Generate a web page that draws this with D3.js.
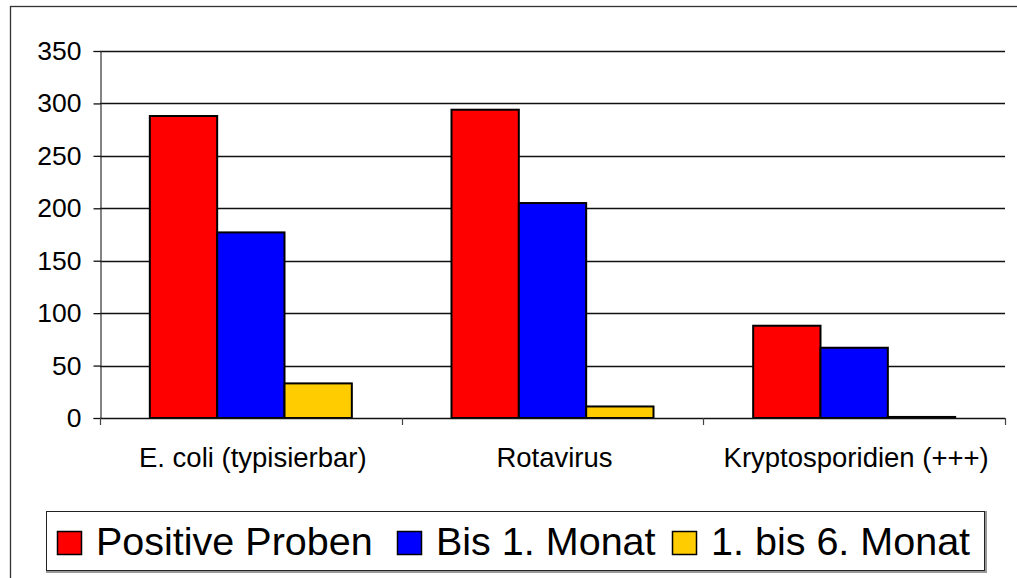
<!DOCTYPE html>
<html>
<head>
<meta charset="utf-8">
<script src="https://cdn.jsdelivr.net/npm/d3@7"></script>
<style>
  html, body { margin: 0; padding: 0; background: #fff; }
  svg { display: block; font-family: "Liberation Sans", Arial, sans-serif; }
</style>
</head>
<body>
<svg id="chart" width="1017" height="578"></svg>
<script>
const categories = ["E. coli (typisierbar)", "Rotavirus", "Kryptosporidien (+++)"];
const seriesNames = ["Positive Proben", "Bis 1. Monat", "1. bis 6. Monat"];
const seriesColors = ["#ff0000", "#0000ff", "#ffcc00"];
const positiveProben = [288, 294, 88];
const bis1Monat = [177, 205, 67];
const bis6Monat = [33, 11, 1];
const yTicks = [0, 50, 100, 150, 200, 250, 300, 350];

const seriesValues = [positiveProben, bis1Monat, bis6Monat];

const svg = d3.select("#chart");
const W = 1017, H = 578;

// outer chart border
svg.append("rect")
  .attr("x", 10.5).attr("y", 6.5)
  .attr("width", W + 10).attr("height", H + 10)
  .attr("fill", "#fff").attr("stroke", "#333").attr("stroke-width", 1.3);

const plot = { left: 100, right: 1005, top: 51, bottom: 418 };

const y = d3.scaleLinear().domain([0, 350]).range([plot.bottom, plot.top]);
const x0 = d3.scaleBand().domain(categories).range([plot.left, plot.right]).paddingInner(0).paddingOuter(0);
const x1 = d3.scaleBand().domain(seriesNames).range([0, x0.bandwidth()]).paddingInner(0).paddingOuter(0.74);

// gridlines
svg.append("g")
  .selectAll("line")
  .data(yTicks.filter(d => d > 0))
  .join("line")
  .attr("x1", plot.left).attr("x2", plot.right)
  .attr("y1", d => Math.round(y(d)) + 0.5).attr("y2", d => Math.round(y(d)) + 0.5)
  .attr("stroke", "#111").attr("stroke-width", 1.3);

// bars
const groups = svg.append("g")
  .selectAll("g")
  .data(categories)
  .join("g")
  .attr("transform", d => `translate(${x0(d)},0)`);

groups.selectAll("rect")
  .data((c, ci) => seriesNames.map((s, si) => ({ s, si, v: seriesValues[si][ci] })))
  .join("rect")
  .attr("x", d => x1(d.s))
  .attr("width", x1.bandwidth())
  .attr("y", d => y(d.v))
  .attr("height", d => y(0) - y(d.v))
  .attr("fill", d => seriesColors[d.si])
  .attr("stroke", "#000").attr("stroke-width", 2);

// y axis
const yAxis = d3.axisLeft(y).tickValues(yTicks).tickSize(7).tickPadding(12);
const gy = svg.append("g").attr("transform", `translate(${plot.left + 0.5},0)`).call(yAxis);
gy.select(".domain").attr("stroke", "#333").attr("stroke-width", 1.2);
gy.selectAll(".tick line").attr("stroke", "#111").attr("stroke-width", 1.3);
gy.selectAll(".tick text").attr("font-size", 26.5).attr("fill", "#000")
  .attr("font-family", "'Liberation Sans', Arial, sans-serif");

// x axis
const xAxisLine = svg.append("g");
xAxisLine.append("line")
  .attr("x1", plot.left).attr("x2", plot.right)
  .attr("y1", y(0) + 0.5).attr("y2", y(0) + 0.5)
  .attr("stroke", "#111").attr("stroke-width", 1.3);
const bounds = categories.map(c => x0(c)).concat([x0(categories[categories.length - 1]) + x0.bandwidth()]);
xAxisLine.selectAll("line.tick")
  .data(bounds)
  .join("line")
  .attr("class", "tick")
  .attr("x1", d => Math.round(d) + 0.5).attr("x2", d => Math.round(d) + 0.5)
  .attr("y1", y(0)).attr("y2", y(0) + 7)
  .attr("stroke", "#444").attr("stroke-width", 1.2);
xAxisLine.selectAll("text")
  .data(categories)
  .join("text")
  .attr("x", d => x0(d) + x0.bandwidth() / 2 + 2)
  .attr("y", 467)
  .attr("text-anchor", "middle")
  .attr("font-size", 27.5)
  .attr("fill", "#000")
  .text(d => d);

// legend
const legend = svg.append("g");
legend.append("rect")
  .attr("x", 47).attr("y", 512).attr("width", 939).attr("height", 60)
  .attr("fill", "none").attr("stroke", "#999").attr("stroke-width", 2);
legend.append("rect")
  .attr("x", 46.5).attr("y", 511.5).attr("width", 938).attr("height", 59)
  .attr("fill", "#fff").attr("stroke", "#222").attr("stroke-width", 1);

const legendSwatchX = [57, 397, 672];
const legendItems = legend.selectAll("g.item")
  .data(seriesNames)
  .join("g")
  .attr("class", "item")
  .attr("transform", (d, i) => `translate(${legendSwatchX[i]},0)`);
legendItems.append("rect")
  .attr("x", 0.5).attr("y", 531.5).attr("width", 24).attr("height", 23)
  .attr("fill", (d, i) => seriesColors[i])
  .attr("stroke", "#000").attr("stroke-width", 1.5);
legendItems.append("text")
  .attr("x", 39).attr("y", 555)
  .attr("font-size", 39.5)
  .attr("fill", "#000")
  .text(d => d);
</script>
</body>
</html>
